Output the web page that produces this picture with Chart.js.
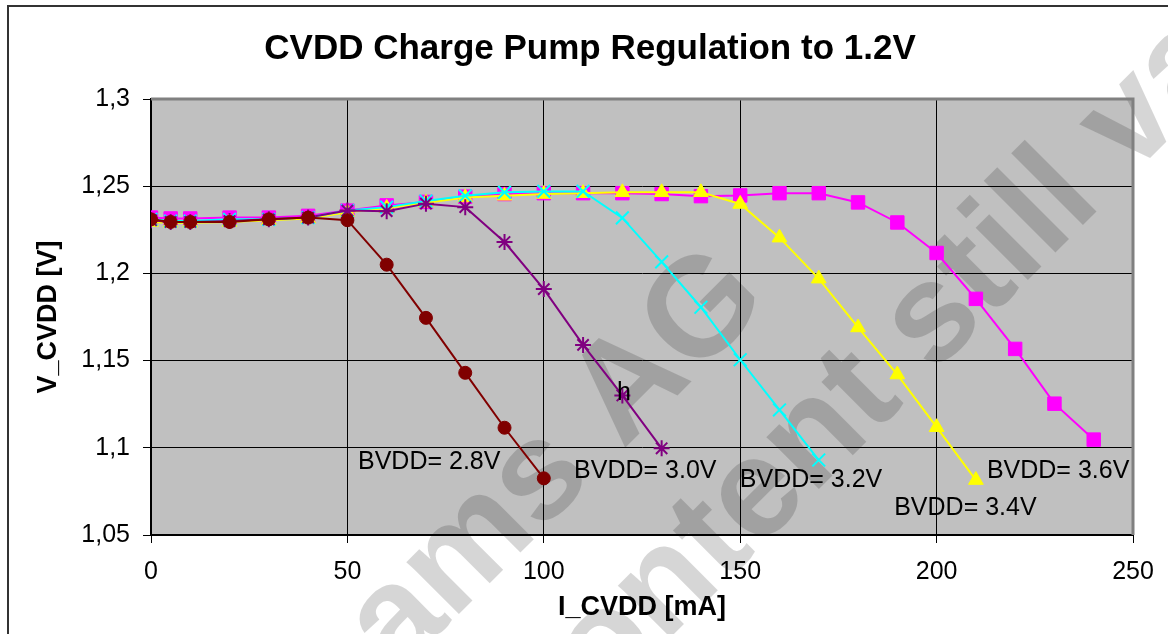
<!DOCTYPE html>
<html>
<head>
<meta charset="utf-8">
<script src="https://cdn.jsdelivr.net/npm/chart.js@4.4.0/dist/chart.umd.min.js"></script>
<style>
  html, body { margin: 0; padding: 0; background: #fff; }
  canvas { display: block; }
</style>
</head>
<body>
<canvas id="pumpChart" width="1168" height="634"></canvas>
<script>
const chartTitle = 'CVDD Charge Pump Regulation to 1.2V';
const seriesNames = ['BVDD= 2.8V', 'BVDD= 3.0V', 'BVDD= 3.2V', 'BVDD= 3.4V', 'BVDD= 3.6V'];

// load current in mA (shared x values, each series stops earlier)
const currentMA = [0, 5, 10, 20, 30, 40, 50, 60, 70, 80, 90, 100, 110, 120, 130,
                   140, 150, 160, 170, 180, 190, 200, 210, 220, 230, 240];

// V_CVDD in V
const bvdd28 = [1.231, 1.2295, 1.2295, 1.2295, 1.231, 1.232, 1.2305, 1.205, 1.1745, 1.143, 1.1115, 1.0825];
const bvdd30 = [1.2305, 1.2295, 1.2295, 1.230, 1.231, 1.232, 1.236, 1.2357, 1.240, 1.238, 1.218, 1.191,
                1.159, 1.130, 1.0997];
const bvdd32 = [1.231, 1.230, 1.230, 1.231, 1.231, 1.232, 1.236, 1.238, 1.2415, 1.2445, 1.2465, 1.247,
                1.247, 1.2318, 1.2066, 1.1806, 1.1505, 1.1217, 1.093];
const bvdd34 = [1.2295, 1.229, 1.229, 1.2295, 1.2305, 1.2315, 1.235, 1.2375, 1.2405, 1.2435, 1.2445, 1.2455,
                1.246, 1.2465, 1.2465, 1.2465, 1.2398, 1.2205, 1.197, 1.169, 1.142, 1.1118, 1.0815];
const bvdd36 = [1.232, 1.2315, 1.2315, 1.232, 1.232, 1.233, 1.236, 1.239, 1.241, 1.244, 1.2455, 1.246,
                1.246, 1.246, 1.2455, 1.2443, 1.2447, 1.246, 1.246, 1.2407, 1.2292, 1.2117, 1.1854, 1.1567,
                1.1253, 1.1047];

const yTickValues = [1.05, 1.1, 1.15, 1.2, 1.25, 1.3];
const yTickLabels = ['1,05', '1,1', '1,15', '1,2', '1,25', '1,3'];

// where the series names sit (mA, V)
const nameAnchors = [[52.7, 1.0916], [107.7, 1.0867], [149.9, 1.0815], [189.2, 1.0655], [212.8, 1.0867]];

const FONT = '"Liberation Sans", Arial, sans-serif';

const seriesStyles = [
  { color: '#800000', pointStyle: 'circle', radius: 6.5, pw: 1 },
  { color: '#800080', pointStyle: 'star', radius: 8, pw: 2 },
  { color: '#00ffff', pointStyle: 'crossRot', radius: 9, pw: 2 },
  { color: '#ffff00', pointStyle: 'triangle', radius: 8.5, pw: 1 },
  { color: '#ff00ff', pointStyle: 'rect', radius: 9.5, pw: 1 }
];

const allSeries = [bvdd28, bvdd30, bvdd32, bvdd34, bvdd36];

function toPoints(values) {
  return values.map((v, i) => ({ x: currentMA[i], y: v }));
}

const datasets = allSeries.map((values, i) => {
  const st = seriesStyles[i];
  return {
    label: seriesNames[i],
    data: toPoints(values),
    borderColor: st.color,
    backgroundColor: st.color,
    pointBackgroundColor: st.color,
    pointBorderColor: st.color,
    pointStyle: st.pointStyle,
    pointRadius: st.radius,
    pointBorderWidth: st.pw,
    borderWidth: 2,
    tension: 0,
    fill: false
  };
});

// background, frame, title, watermark, border and in-plot texts
const plotDecor = {
  id: 'plotDecor',
  beforeDraw(chart) {
    const { ctx, chartArea: a } = chart;
    ctx.save();
    ctx.fillStyle = '#fff';
    ctx.fillRect(0, 0, chart.width, chart.height);
    ctx.strokeStyle = '#333';
    ctx.lineWidth = 2;
    ctx.beginPath();
    ctx.moveTo(8, chart.height);
    ctx.lineTo(8, 6);
    ctx.lineTo(chart.width, 6);
    ctx.stroke();
    ctx.fillStyle = '#c0c0c0';
    ctx.fillRect(a.left, a.top, a.right - a.left, a.bottom - a.top);
    ctx.fillStyle = '#000';
    ctx.font = 'bold 35px ' + FONT;
    ctx.textAlign = 'center';
    ctx.textBaseline = 'middle';
    ctx.fillText(chartTitle, 590, 49);
    ctx.restore();
  },
  beforeDatasetsDraw(chart) {
    const { ctx, chartArea: a } = chart;
    ctx.save();
    ctx.fillStyle = 'rgba(0,0,0,0.16)';
    ctx.font = 'bold 140px ' + FONT;
    ctx.textAlign = 'left';
    ctx.textBaseline = 'alphabetic';
    [['ams AG', 397, 676], ['content still valid', 548, 760]].forEach(([t, x, y]) => {
      ctx.save();
      ctx.translate(x, y);
      ctx.rotate(-Math.PI / 4);
      ctx.fillText(t, 0, 0);
      ctx.restore();
    });
    ctx.strokeStyle = '#808080';
    ctx.lineWidth = 3;
    ctx.beginPath();
    ctx.moveTo(a.left, a.top);
    ctx.lineTo(a.right, a.top);
    ctx.lineTo(a.right, a.bottom);
    ctx.stroke();
    ctx.restore();
  },
  afterDatasetsDraw(chart) {
    const { ctx, scales: { x, y } } = chart;
    ctx.save();
    ctx.fillStyle = '#000';
    ctx.font = '25px ' + FONT;
    ctx.textAlign = 'left';
    ctx.textBaseline = 'middle';
    nameAnchors.forEach(([mx, v], i) => {
      ctx.fillText(seriesNames[i], x.getPixelForValue(mx), y.getPixelForValue(v));
    });
    ctx.textAlign = 'center';
    ctx.fillText('h', x.getPixelForValue(120.4), y.getPixelForValue(1.1314));
    ctx.restore();
  }
};

const ctx = document.getElementById('pumpChart').getContext('2d');
const pumpChart = new Chart(ctx, {
  type: 'line',
  data: { datasets: datasets },
  plugins: [plotDecor],
  options: {
    responsive: false,
    animation: false,
    devicePixelRatio: 1,
    layout: { padding: { top: 99, right: 35, left: 0, bottom: 0 } },
    plugins: {
      legend: { display: false },
      tooltip: { enabled: false },
      title: { display: false }
    },
    scales: {
      x: {
        type: 'linear',
        min: 0,
        max: 250,
        ticks: {
          stepSize: 50,
          autoSkip: false,
          maxRotation: 0,
          color: '#000',
          padding: 14,
          font: { family: FONT, size: 25 }
        },
        grid: { color: '#000', lineWidth: 1, tickLength: 8, drawTicks: true },
        border: { color: '#000', width: 2 },
        title: {
          display: true,
          text: 'I_CVDD [mA]',
          color: '#000',
          font: { family: FONT, size: 27, weight: 'bold' },
          padding: { top: 0, bottom: 10 }
        },
        afterFit(scale) { scale.height = 99; }
      },
      y: {
        type: 'linear',
        min: 1.05,
        max: 1.3,
        afterBuildTicks(scale) {
          scale.ticks = yTickValues.map(v => ({ value: v }));
        },
        ticks: {
          color: '#000',
          padding: 13,
          font: { family: FONT, size: 25 },
          callback(value) {
            const i = yTickValues.findIndex(v => Math.abs(v - value) < 1e-6);
            return i >= 0 ? yTickLabels[i] : '';
          }
        },
        grid: { color: '#000', lineWidth: 1, tickLength: 8, drawTicks: true },
        border: { color: '#000', width: 2 },
        title: {
          display: true,
          text: 'V_CVDD [V]',
          color: '#000',
          font: { family: FONT, size: 27, weight: 'bold' },
          padding: { top: 32, bottom: 0 }
        },
        afterFit(scale) { scale.width = 151; }
      }
    }
  }
});
</script>
</body>
</html>
